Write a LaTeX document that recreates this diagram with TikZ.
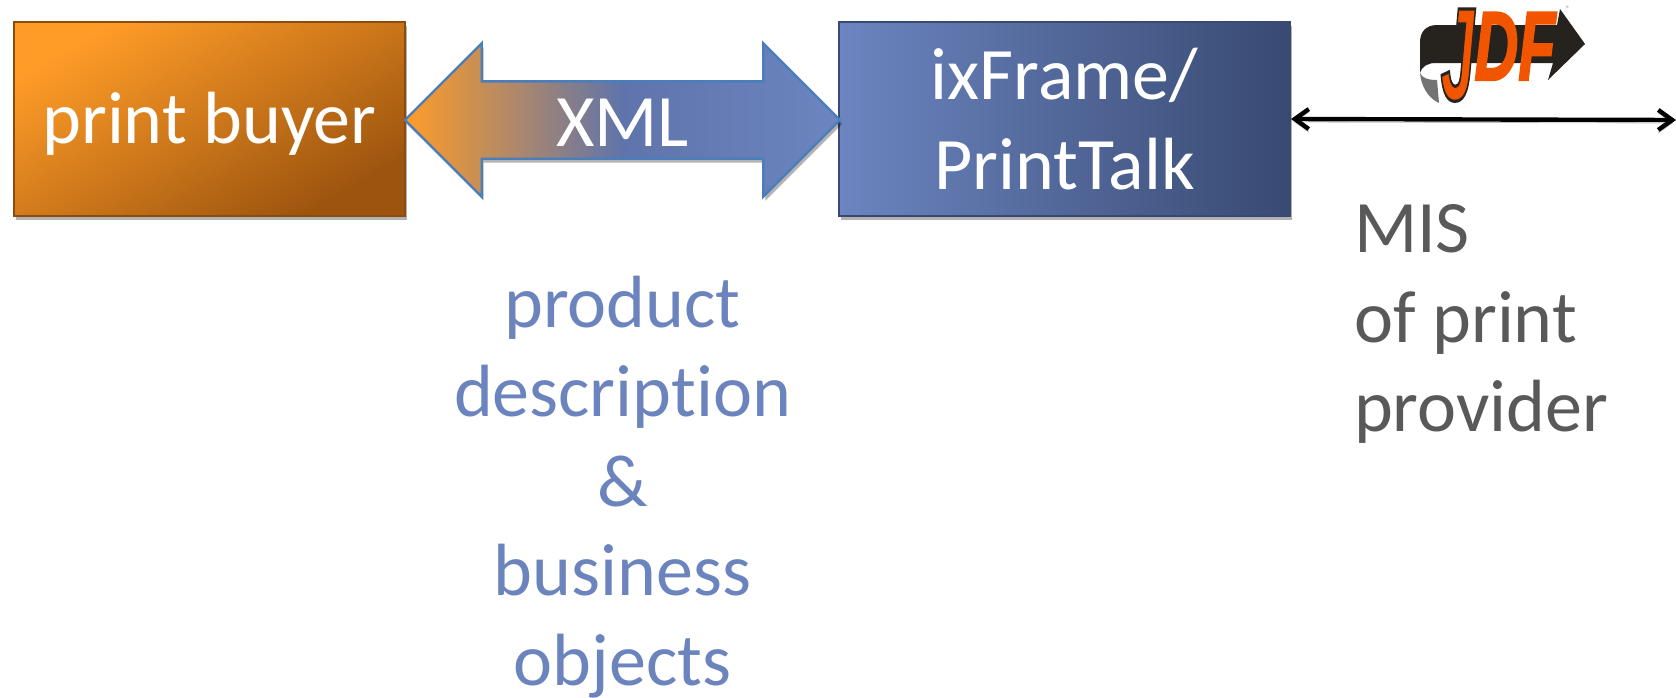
\documentclass[tikz,border=0pt]{standalone}
\usepackage{fontspec}
\setmainfont[Ligatures=NoCommon]{Carlito}
\newfontfamily\logofont{Liberation Sans}
\usetikzlibrary{arrows.meta,shadows,shapes.arrows}
\definecolor{buyerlight}{HTML}{FF9C28}
\definecolor{buyerdark}{HTML}{9C540E}
\definecolor{framelight}{HTML}{6C85C0}
\definecolor{framedark}{HTML}{384A72}
\definecolor{framemid}{HTML}{5F74AA}
\definecolor{arrowline}{HTML}{4A7EBB}
\definecolor{labelblue}{HTML}{6C84BD}
\definecolor{labelgray}{HTML}{595959}
\definecolor{logodark}{HTML}{26231F}
\definecolor{logoorange}{HTML}{F25500}
\pgfdeclarehorizontalshading{xmlshade}{100bp}{color(0bp)=(buyerlight); color(25bp)=(buyerlight); color(50bp)=(framemid); color(75bp)=(framelight); color(100bp)=(framelight)}
\tikzset{
    softshadow/.style={drop shadow={shadow xshift=1pt,shadow yshift=-2pt,opacity=0.3,fill=black}},
    bigtext/.style={font=\fontsize{37}{44.8}\selectfont,align=center},
    boxnode/.style={rectangle,draw,line width=1pt,minimum height=97pt,text=white,bigtext,softshadow},
}
\begin{document}
\begin{tikzpicture}[x=0.5pt,y=-0.5pt]
    \useasboundingbox (0,0) rectangle (1676,697);
    % boxes and the big arrow
    \node[boxnode,minimum width=195.5pt,draw=buyerdark!90!black,top color=buyerlight,bottom color=buyerdark,shading angle=30,text height=31.4pt,text depth=7pt] (buyer) at (209.5,119) {print buyer};
    \node[boxnode,minimum width=225.5pt,draw=framedark,left color=framelight,right color=framedark] (frame) at (1064.5,119) {ixFrame/\\PrintTalk};
    \node[double arrow,draw=arrowline,line width=1.2pt,shading=xmlshade,shading angle=0,minimum height=217.5pt,minimum width=75.8pt,double arrow head extend=19pt,inner sep=0pt,text height=31.75pt,text depth=5.75pt,text=white,bigtext,softshadow] (xml) at (622.5,120) {XML};
    % link to the print provider
    \coordinate (provider) at (1676,120);
    \draw[{Straight Barb[length=7pt,width=10pt]}-{Straight Barb[length=7pt,width=10pt]},line width=2.2pt,preaction={draw=black!25,transform canvas={yshift=-1.5pt}}] (frame.east) -- (provider);
    % labels
    \node[bigtext,text=labelblue] (objects) at (622.5,487) {product\\description\\\&\\business\\objects};
    \node[bigtext,text=labelgray,align=left,anchor=west] (mis) at (1347,324) {MIS\\of print\\provider};
    % JDF logo
    \fill[logodark] (1437,25) .. controls (1426,25) and (1420,32) .. (1420,42) -- (1420,73) .. controls (1422,66) and (1428,63) .. (1436,63) -- (1553,63) -- (1548,80) -- (1585,44) -- (1560,9) -- (1557,25) -- cycle;
    \fill[black!55] (1420,73) .. controls (1421,86) and (1428,98) .. (1439,103) -- (1437,80) .. controls (1428,80) and (1422,78) .. (1420,73) -- cycle;
    \node[inner sep=0pt,text=logoorange,anchor=base,font=\logofont\bfseries\itshape\fontsize{49}{49}\selectfont] (jdf) at (1498,80) {\special{pdf:code 2 Tr 1.2 w 0.15 0.14 0.12 RG}\scalebox{0.62}[1]{\raisebox{-10pt}{\scalebox{1}[1.35]{J}}DF}\special{pdf:code 0 Tr 0 w}};
    \node[inner sep=0pt,text=black!45,font=\fontsize{4}{4}\selectfont] (reg) at (1568,9) {®};
\end{tikzpicture}
\end{document}
